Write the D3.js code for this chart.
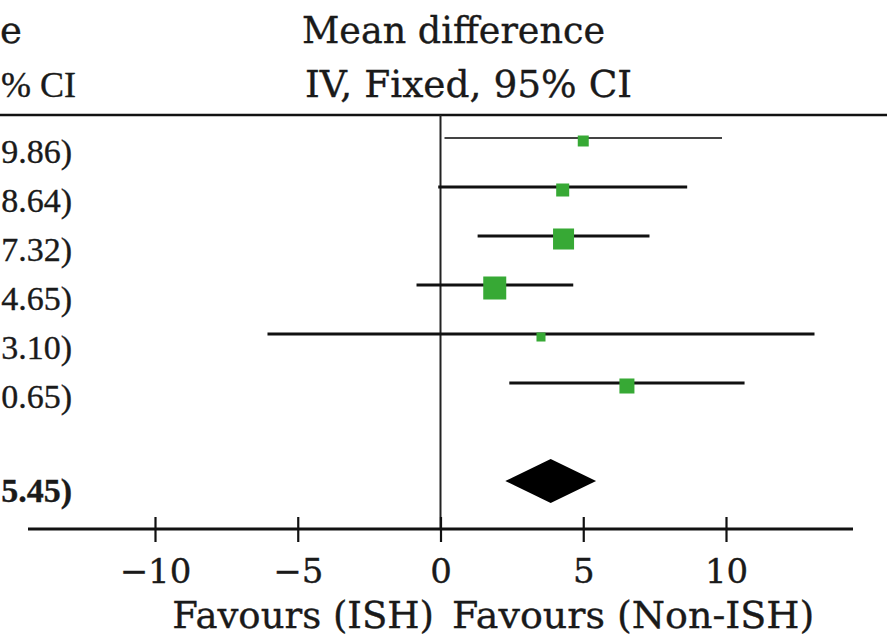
<!DOCTYPE html>
<html>
<head>
<meta charset="utf-8">
<script src="https://cdn.jsdelivr.net/npm/d3@7"></script>
<style>
  html, body { margin: 0; padding: 0; background: #fff; }
  svg { display: block; }
  text { fill: #1a1a1a; stroke: #1a1a1a; stroke-width: 0.35; }
</style>
</head>
<body>
<svg id="chart" width="895" height="636"></svg>
<script>
// ---- data ----
const meanDiff = [5.00, 4.28, 4.31, 1.90, 3.52, 6.53];
const ciLower  = [0.14, -0.08, 1.30, -0.84, -6.06, 2.41];
const ciUpper  = [9.86, 8.64, 7.32, 4.65, 13.10, 10.65];
const weights  = [7.7, 10.8, 28.2, 33.8, 5.2, 14.4];
const totalMean  = 3.86;
const totalLower = 2.27;
const totalUpper = 5.45;
const tickValues = [-10, -5, 0, 5, 10];
const headerTop    = "Mean difference";
const headerBottom = "IV, Fixed, 95% CI";
// visible (cropped) part of the left column header
const leftHeaderTop    = "e";
const leftHeaderBottom = "% CI";
const favourLeft  = "Favours (ISH)";
const favourRight = "Favours (Non-ISH)";

// ---- layout ----
const svg = d3.select("#chart");
const fmt = d3.format(".2f");
// the left column is cropped by the picture edge: only the tail of each CI text shows
const visibleTail = s => s.slice(-5);
const ciText = (m, l, u) => fmt(m) + " (" + fmt(l) + ", " + fmt(u) + ")";

const x = d3.scaleLinear().domain([-10, 10]).range([155, 726]);
const y = d3.scalePoint().domain(d3.range(8)).range([138, 481]);
const size = d3.scaleSqrt().domain([0, d3.max(weights)]).range([0, 23]);

const rows = meanDiff.map((m, i) => ({ i, m, lo: ciLower[i], hi: ciUpper[i], w: weights[i] }));

const axisY = 529;
const ruleY = 115;
const wordFont = "'DejaVu Serif', serif";
const numFont = "'Liberation Serif', serif";

function label(x0, y0, size, txt, font, anchor) {
  return svg.append("text").attr("x", x0).attr("y", y0)
    .attr("text-anchor", anchor || "start")
    .style("font-family", font).style("font-size", size + "px")
    .text(txt);
}

// header texts (right column)
label(302, 43, 36.5, headerTop, wordFont);
label(305, 97, 37.5, headerBottom, wordFont);
// header texts (left column, visible part)
label(22, 43, 37, leftHeaderTop, wordFont, "end");
label(76, 97, 36, leftHeaderBottom, numFont, "end");

// header rule
svg.append("line").attr("x1", 0).attr("x2", 887).attr("y1", ruleY).attr("y2", ruleY)
  .attr("stroke", "#111").attr("stroke-width", 2.6);

// zero line
svg.append("line").attr("x1", x(0)).attr("x2", x(0)).attr("y1", ruleY).attr("y2", axisY)
  .attr("stroke", "#222").attr("stroke-width", 2);

// CI lines
svg.append("g").selectAll("line").data(rows).join("line")
  .attr("x1", d => x(d.lo)).attr("x2", d => x(d.hi))
  .attr("y1", d => y(d.i)).attr("y2", d => y(d.i))
  .attr("stroke", d => d.i === 0 ? "#444" : "#111")
  .attr("stroke-width", d => d.i === 0 ? 2.2 : 2.8);

// squares
svg.append("g").selectAll("rect").data(rows).join("rect")
  .attr("x", d => x(d.m) - size(d.w) / 2)
  .attr("y", d => y(d.i) + 3 - size(d.w) / 2)
  .attr("width", d => size(d.w)).attr("height", d => size(d.w))
  .attr("fill", "#37a935");

// row CI texts (left column, visible tail)
svg.append("g").selectAll("text").data(rows).join("text")
  .attr("x", 72).attr("y", d => y(d.i) + 25)
  .attr("text-anchor", "end")
  .style("font-family", numFont).style("font-size", "34px")
  .text(d => visibleTail(ciText(d.m, d.lo, d.hi)));

// summary diamond
const ty = y(7);
const diamondHalfH = 22;
svg.append("path")
  .attr("d", d3.line()([
    [x(totalLower), ty], [x(totalMean), ty - diamondHalfH],
    [x(totalUpper), ty], [x(totalMean), ty + diamondHalfH]
  ]) + "Z")
  .attr("fill", "#000");
label(72, ty + 21, 34, visibleTail(ciText(totalMean, totalLower, totalUpper)), numFont, "end")
  .style("font-weight", "bold");

// axis
svg.append("line").attr("x1", 28).attr("x2", 853).attr("y1", axisY).attr("y2", axisY)
  .attr("stroke", "#111").attr("stroke-width", 2.8);
const axis = d3.axisBottom(x).tickValues(tickValues).tickSize(13).tickPadding(14);
const gAxis = svg.append("g").attr("transform", `translate(0,${axisY})`).call(axis);
gAxis.select(".domain").remove();
gAxis.selectAll(".tick line").attr("y1", -12).attr("stroke", "#111").attr("stroke-width", 2.2);
gAxis.selectAll(".tick text")
  .style("font-family", wordFont).style("font-size", "34px")
  .attr("dy", null).attr("y", 54);

// favour labels
label(434, 628, 37, favourLeft, wordFont, "end");
label(452, 628, 38, favourRight, wordFont);
</script>
</body>
</html>
